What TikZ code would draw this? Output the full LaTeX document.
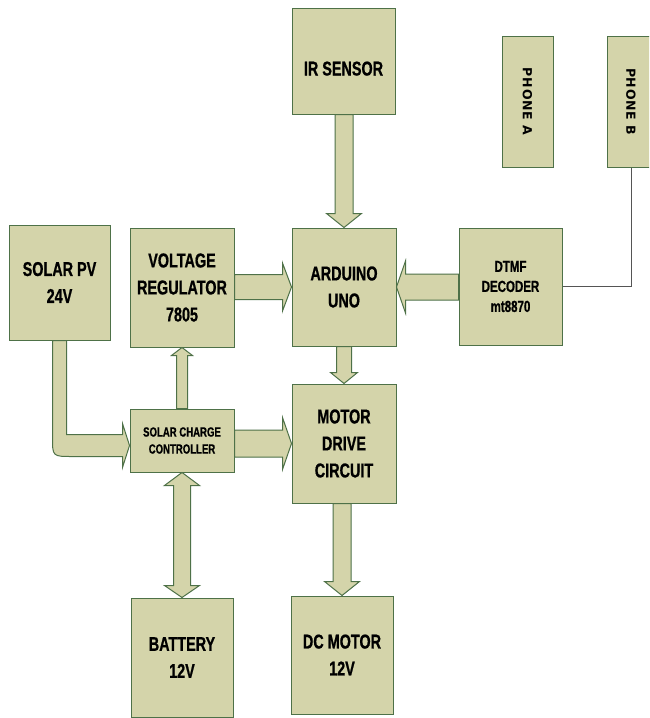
\documentclass[tikz,border=0pt]{standalone}
\usepackage{fontspec}
\setmainfont{Liberation Sans}[FakeStretch=0.72, BoldFeatures={FakeBold=0.8}]
\newfontfamily\phonefont{DejaVu Sans}[LetterSpace=6]
\usepackage{xcolor}
\usepackage{tikz}
\usetikzlibrary{calc}
\definecolor{blkFill}{HTML}{D4D4AA}
\definecolor{blkLine}{HTML}{4E7148}
\definecolor{wireGray}{HTML}{555555}

\begin{document}
\begin{tikzpicture}[x=1pt, y=-1pt, line width=1pt,
  blk/.style={draw=blkLine, fill=blkFill, inner sep=0pt, align=center, font=\fontsize{20}{27}\selectfont\bfseries},
  phonebox/.style={blk, minimum width=51, minimum height=131, font=\phonefont\bfseries\fontsize{12.5}{14}\selectfont},
  fat/.style={draw=blkLine, fill=blkFill}]
\useasboundingbox (0,0) rectangle (649,718);
\clip (0,0) rectangle (649,718);
\fill[white] (0,0) rectangle (649,718);
\node[blk, minimum width=103, minimum height=106] (ir) at (343.5,61) {\raisebox{-14.5pt}[0pt][0pt]{IR SENSOR}};
\node[phonebox] (phA) at (527.5,101.5) {\rotatebox{-90}{PHONE A}};
\node[phonebox, minimum width=48] (phB) at (631,101.5) {\rotatebox{-90}{PHONE B}};
\node[blk, minimum width=101, minimum height=115] (pv) at (59.5,282.5) {SOLAR PV\\24V};
\node[blk, minimum width=104, minimum height=119] (vr) at (182,287.5) {VOLTAGE\\REGULATOR\\7805};
\node[blk, minimum width=104, minimum height=118] (ard) at (344,287) {ARDUINO\\UNO};
\node[blk, minimum width=103, minimum height=117, font=\fontsize{16}{20}\selectfont\bfseries] (dtmf) at (510.5,286.5) {DTMF\\DECODER\\mt8870};
\node[blk, minimum width=104, minimum height=63, font=\fontsize{13.3}{17}\selectfont\bfseries] (scc) at (182,440.5) {SOLAR CHARGE\\CONTROLLER};
\node[blk, minimum width=104, minimum height=119] (mdc) at (344,443.5) {MOTOR\\DRIVE\\CIRCUIT};
\node[blk, minimum width=102, minimum height=119] (bat) at (182,657.5) {BATTERY\\12V};
\node[blk, minimum width=102, minimum height=118] (dcm) at (342,655) {DC MOTOR\\12V};
\draw[wireGray] (phB.south) |- (dtmf.east);
\draw[fat] ($(ard.north |- ir.south)+(-9,0)$) -- ($(ard.north)+(-9,-14)$) -- ($(ard.north)+(-17.5,-14)$) -- (ard.north) -- ($(ard.north)+(17.5,-14)$) -- ($(ard.north)+(9,-14)$) -- ($(ard.north |- ir.south)+(9,0)$) -- cycle;
\draw[fat] ($(vr.east |- ard.west)+(0,-12.5)$) -- ($(ard.west)+(-9,-12.5)$) -- ($(ard.west)+(-9,-24)$) -- (ard.west) -- ($(ard.west)+(-9,24)$) -- ($(ard.west)+(-9,12.5)$) -- ($(vr.east |- ard.west)+(0,12.5)$) -- cycle;
\draw[fat] ($(dtmf.west |- ard.east)+(0,-13)$) -- ($(ard.east)+(9,-13)$) -- ($(ard.east)+(9,-26)$) -- (ard.east) -- ($(ard.east)+(9,26)$) -- ($(ard.east)+(9,13)$) -- ($(dtmf.west |- ard.east)+(0,13)$) -- cycle;
\draw[fat] ($(ard.south)+(-7.5,0)$) -- ($(mdc.north)+(-7.5,-11)$) -- ($(mdc.north)+(-13.5,-11)$) -- (mdc.north) -- ($(mdc.north)+(13.5,-11)$) -- ($(mdc.north)+(7.5,-11)$) -- ($(ard.south)+(7.5,0)$) -- cycle;
\draw[fat] ($(scc.north)+(-5.5,0)$) -- ($(vr.south)+(-5.5,8)$) -- ($(vr.south)+(-10.5,8)$) -- (vr.south) -- ($(vr.south)+(10.5,8)$) -- ($(vr.south)+(5.5,8)$) -- ($(scc.north)+(5.5,0)$) -- cycle;
\draw[fat] ($(scc.east |- mdc.west)+(0,-13.5)$) -- ($(mdc.west)+(-9,-13.5)$) -- ($(mdc.west)+(-9,-26)$) -- (mdc.west) -- ($(mdc.west)+(-9,26)$) -- ($(mdc.west)+(-9,13.5)$) -- ($(scc.east |- mdc.west)+(0,13.5)$) -- cycle;
\draw[fat] (scc.south) -- ($(scc.south)+(17.5,13)$) -- ($(scc.south)+(8.5,13)$) -- ($(bat.north)+(8.5,-12)$) -- ($(bat.north)+(17.5,-12)$) -- (bat.north) -- ($(bat.north)+(-17.5,-12)$) -- ($(bat.north)+(-8.5,-12)$) -- ($(scc.south)+(-8.5,13)$) -- ($(scc.south)+(-17.5,13)$) -- cycle;
\draw[fat] ($(dcm.north |- mdc.south)+(-9,0)$) -- ($(dcm.north)+(-9,-14)$) -- ($(dcm.north)+(-17.5,-14)$) -- (dcm.north) -- ($(dcm.north)+(17.5,-14)$) -- ($(dcm.north)+(9,-14)$) -- ($(dcm.north |- mdc.south)+(9,0)$) -- cycle;
\coordinate (pvIn) at ($(scc.west)+(0,5)$);
\coordinate (pvBend) at (pv.south |- pvIn);
\draw[fat] ($(pv.south)+(-7,0)$) -- ($(pvBend)+(-7,-8)$) .. controls ($(pvBend)+(-7,11)$) .. ($(pvBend)+(13,11)$) -- ($(pvIn)+(-7,11)$) -- ($(pvIn)+(-7,22)$) -- (pvIn) -- ($(pvIn)+(-7,-22)$) -- ($(pvIn)+(-7,-11)$) -- ($(pvBend)+(7,-11)$) -- ($(pv.south)+(7,0)$) -- cycle;
\end{tikzpicture}
\end{document}
